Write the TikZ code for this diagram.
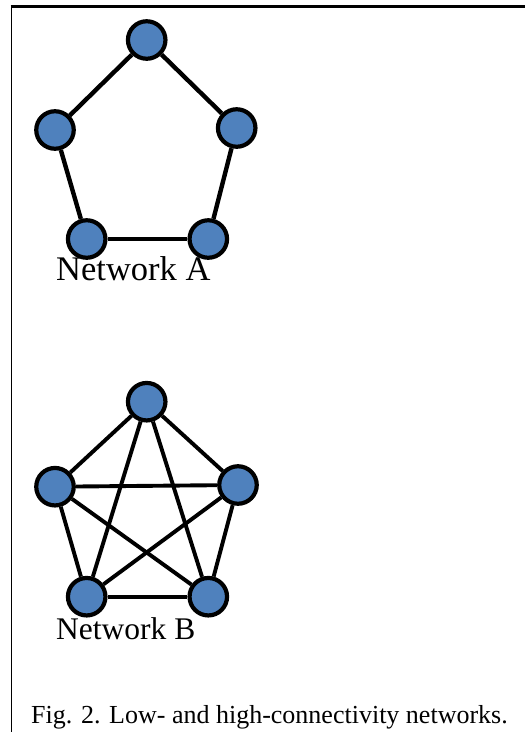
\documentclass[tikz,border=0pt]{standalone}
\usepackage{fontspec}
\setmainfont{Liberation Serif}
\usetikzlibrary{backgrounds}
\definecolor{nodeblue}{RGB}{79,129,189}
\tikzset{
  vtx/.style={circle, fill=nodeblue, draw=black, line width=4.2pt, minimum size=37.5pt, inner sep=0pt},
  edgeA/.style={draw=black, line width=4.4pt},
  edgeB/.style={draw=black, line width=3.9pt},
  lbl/.style={inner sep=0pt, anchor=base west},
  frameline/.style={draw=black}
}
\begin{document}
\begin{tikzpicture}[x=1pt,y=-1pt]
\useasboundingbox (0,0) rectangle (525,732);
% frame
\coordinate (ftr) at (525,6.5);
\coordinate (ftl) at (10.6,6.5);
\coordinate (fbl) at (11.5,732);
\draw[frameline, line width=2.8pt] (ftl) -- (ftr);
\draw[frameline, line width=1.8pt] (11.5,5.2) -- (fbl);
% Network A
\node[vtx] (a1) at (146.7,40) {};
\node[vtx] (a2) at (55,130) {};
\node[vtx] (a3) at (236.7,128) {};
\node[vtx] (a4) at (86.7,239) {};
\node[vtx] (a5) at (208.3,239) {};
\begin{scope}[on background layer]
\draw[edgeA] (a1) -- (a2);
\draw[edgeA] (a1) -- (a3);
\draw[edgeA] (a2) -- (a4);
\draw[edgeA] (a3) -- (a5);
\draw[edgeA] (a4) -- (a5);
\end{scope}
\node[lbl, font=\fontsize{34.5}{38}\selectfont] (la) at (56,280) {Network A};
% Network B
\node[vtx] (b1) at (146.7,401.7) {};
\node[vtx] (b2) at (55,486.7) {};
\node[vtx] (b3) at (238,485) {};
\node[vtx] (b4) at (86.7,596.7) {};
\node[vtx] (b5) at (208.3,596.7) {};
\begin{scope}[on background layer]
\draw[edgeB] (b1) -- (b2);
\draw[edgeB] (b1) -- (b3);
\draw[edgeB] (b2) -- (b4);
\draw[edgeB] (b3) -- (b5);
\draw[edgeB] (b4) -- (b5);
\draw[edgeB] (b1) -- (b4);
\draw[edgeB] (b1) -- (b5);
\draw[edgeB] (b2) -- (b3);
\draw[edgeB] (b2) -- (b5);
\draw[edgeB] (b3) -- (b4);
\end{scope}
\node[lbl, font=\fontsize{31.5}{35}\selectfont] (lb) at (56,639) {Network B};
% caption
\node[lbl, font=\fontsize{26}{28}\selectfont] (cap) at (31,723) {Fig. 2. Low- and high-connectivity networks.};
\end{tikzpicture}
\end{document}
